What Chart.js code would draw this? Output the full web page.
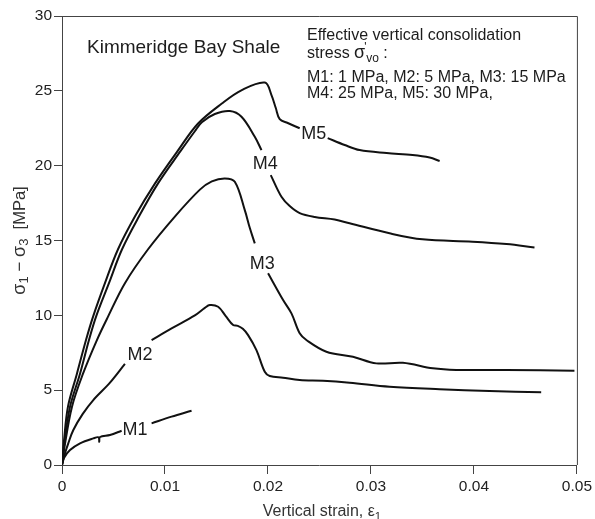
<!DOCTYPE html>
<html>
<head>
<meta charset="utf-8">
<script src="https://cdn.jsdelivr.net/npm/chart.js@4.4.1/dist/chart.umd.min.js"></script>
<style>
  html, body { margin: 0; padding: 0; background: #fff; }
  #wrap { width: 595px; height: 519px; }
</style>
</head>
<body>
<div id="wrap"><canvas id="chart"></canvas></div>
<script>
// values (strain [-], deviator stress [MPa]); null = gap left for the curve label
const m1Strain = [0, 0.00019, 0.00078, 0.00175, 0.00304, 0.00355, 0.00362, 0.00369, 0.00466, 0.00579, 0.007, 0.0087, 0.01064, 0.01258];
const m1Stress = [0, 0.47, 1.0, 1.45, 1.78, 1.85, 1.55, 1.87, 2.0, 2.29, null, 2.78, 3.23, 3.63];

const m2Strain = [0, 0.00029, 0.00061, 0.0011, 0.002, 0.00304, 0.00466, 0.00611, 0.0075, 0.0087, 0.01064, 0.0129, 0.01387, 0.01435, 0.01516, 0.0159, 0.01662, 0.01707, 0.01756, 0.01807, 0.01888, 0.01969, 0.02017, 0.02146, 0.02308, 0.02534, 0.02793, 0.03181, 0.03666, 0.04151, 0.04653];
const m2Stress = [0, 0.78, 1.45, 2.34, 3.4, 4.34, 5.5, 6.75, null, 8.35, 9.13, 10.0, 10.5, 10.69, 10.57, 9.95, 9.35, 9.3, 9.1, 8.68, 7.68, 6.23, 5.95, 5.83, 5.68, 5.63, 5.5, 5.23, 5.06, 4.94, 4.86];

const m3Strain = [0, 0.00024, 0.00097, 0.00204, 0.00339, 0.00446, 0.00611, 0.00834, 0.01096, 0.01339, 0.01455, 0.01581, 0.01678, 0.01775, 0.01824, 0.01872, 0.0192, 0.02001, 0.02147, 0.02228, 0.02308, 0.02373, 0.02567, 0.02825, 0.03052, 0.0331, 0.03601, 0.03828, 0.04313, 0.04976];
const m3Stress = [0, 1.2, 3.9, 6.1, 8.35, 9.9, 12.15, 14.4, 16.6, 18.4, 18.95, 19.15, 18.93, 17.03, 15.83, 14.81, null, 12.81, 11.02, 10.13, 8.8, 8.35, 7.57, 7.23, 6.79, 6.83, 6.46, 6.35, 6.35, 6.3];

const m4Strain = [0, 0.00024, 0.00078, 0.00175, 0.00262, 0.0033, 0.00456, 0.00582, 0.00747, 0.00931, 0.01154, 0.0129, 0.01358, 0.01484, 0.0163, 0.01743, 0.01872, 0.01937, 0.0199, 0.02027, 0.02131, 0.02211, 0.02308, 0.02454, 0.02648, 0.02793, 0.03181, 0.03501, 0.03986, 0.04316, 0.04588];
const m4Stress = [0, 1.5, 3.9, 6.1, 8.35, 9.9, 12.15, 14.4, 16.6, 18.8, 21.0, 22.3, 22.9, 23.45, 23.65, 23.27, 21.93, 21.04, null, 19.37, 17.92, 17.3, 16.83, 16.57, 16.4, 16.15, 15.48, 15.08, 14.92, 14.76, 14.54];

const m5Strain = [0, 0.00019, 0.00058, 0.00145, 0.00233, 0.00301, 0.00417, 0.00543, 0.00708, 0.00902, 0.01125, 0.01319, 0.01552, 0.01746, 0.0197, 0.02034, 0.02076, 0.02114, 0.02192, 0.02308, 0.0245, 0.0258, 0.02745, 0.0289, 0.03152, 0.03404, 0.0357, 0.03667];
const m5Stress = [0, 1.6, 3.9, 6.1, 8.35, 9.9, 12.15, 14.4, 16.6, 18.8, 21.0, 22.8, 24.15, 25.05, 25.55, 24.72, 23.85, 23.11, 22.85, 22.5, null, 21.84, 21.38, 21.04, 20.84, 20.71, 20.54, 20.31];

const curveNames = ['M1', 'M2', 'M3', 'M4', 'M5'];
const labelStrain = [0.00708, 0.00757, 0.01945, 0.01974, 0.02444];
const labelStress = [2.44, 7.45, 13.53, 20.2, 22.2];

const xTickLabels = ['0', '0.01', '0.02', '0.03', '0.04', '0.05'];
const yTickLabels = ['0', '5', '10', '15', '20', '25', '30'];

const titleText = 'Kimmeridge Bay Shale';
const noteLines = ['Effective vertical consolidation', 'stress', 'M1: 1 MPa, M2: 5 MPa, M3: 15 MPa', 'M4: 25 MPa, M5: 30 MPa,'];

const FONT = '"Liberation Sans", Arial, sans-serif';
const axisColor = '#444';
const textColor = '#1c1c1c';

function toPoints(xs, ys) {
  return xs.map((v, i) => ({ x: v, y: ys[i] }));
}

const series = [[m1Strain, m1Stress], [m2Strain, m2Stress], [m3Strain, m3Stress], [m4Strain, m4Stress], [m5Strain, m5Stress]];

const datasets = series.map((s, i) => ({
  label: curveNames[i],
  data: toPoints(s[0], s[1]),
  showLine: true,
  borderColor: '#111',
  borderWidth: 2,
  pointRadius: 0,
  tension: 0.35,
  spanGaps: false
}));

// draws a run of [text, size, dy] pieces starting at x0
function drawRuns(ctx, runs, x0, y0) {
  let x = x0;
  runs.forEach(r => {
    ctx.font = r[1] + 'px ' + FONT;
    ctx.fillText(r[0], x, y0 + r[2]);
    x += ctx.measureText(r[0]).width;
  });
  return x;
}
function runsWidth(ctx, runs) {
  let w = 0;
  runs.forEach(r => { ctx.font = r[1] + 'px ' + FONT; w += ctx.measureText(r[0]).width; });
  return w;
}

const textPlugin = {
  id: 'textPlugin',
  afterDraw(chart) {
    const { ctx, chartArea: a, scales } = chart;
    const sx = scales.x, sy = scales.y;
    ctx.save();

    // top and right frame
    ctx.strokeStyle = axisColor;
    ctx.lineWidth = 1;
    ctx.beginPath();
    ctx.moveTo(a.left, a.top + 0.5);
    ctx.lineTo(a.right + 0.5, a.top + 0.5);
    ctx.lineTo(a.right + 0.5, a.bottom);
    ctx.stroke();

    ctx.fillStyle = textColor;
    ctx.textBaseline = 'alphabetic';
    ctx.textAlign = 'left';

    // title
    ctx.font = '19px ' + FONT;
    ctx.fillText(titleText, 87, 53);

    // note
    ctx.font = '16px ' + FONT;
    ctx.fillText(noteLines[0], 307, 40);
    let xe = drawRuns(ctx, [[noteLines[1] + ' ', 16, 0], ['σ', 18, 0]], 307, 58);
    ctx.font = '12px ' + FONT;
    ctx.fillText('\'', xe - 1, 51);
    xe = drawRuns(ctx, [['vo', 12, 4], [' :', 16, 0]], xe + 1, 58);
    ctx.font = '16px ' + FONT;
    ctx.fillText(noteLines[2], 307, 82);
    ctx.fillText(noteLines[3], 307, 98);

    // curve labels
    ctx.font = '18px ' + FONT;
    ctx.textAlign = 'center';
    curveNames.forEach((n, i) => {
      ctx.fillText(n, sx.getPixelForValue(labelStrain[i]), sy.getPixelForValue(labelStress[i]) + 6.5);
    });

    // x axis title
    ctx.textAlign = 'left';
    ctx.fillStyle = '#333';
    const xRuns = [['Vertical strain, ', 16, 0], ['ε', 16, 0], ['1', 11.5, 4]];
    const xw = runsWidth(ctx, xRuns);
    drawRuns(ctx, xRuns, 322 - xw / 2, 516);

    // y axis title
    const yRuns = [['σ', 18, 0], ['1', 13, 3], [' − ', 17, 0], ['σ', 18, 0], ['3', 13, 3], ['  [MPa]', 16.5, 0]];
    ctx.translate(25, (a.top + a.bottom) / 2);
    ctx.rotate(-Math.PI / 2);
    const yw = runsWidth(ctx, yRuns);
    drawRuns(ctx, yRuns, -yw / 2, 0);

    ctx.restore();
  }
};

Chart.defaults.font.family = FONT;

new Chart(document.getElementById('chart'), {
  type: 'scatter',
  data: { datasets },
  plugins: [textPlugin],
  options: {
    responsive: true,
    maintainAspectRatio: false,
    animation: false,
    layout: { padding: { top: 16, right: 15, left: 0, bottom: 0 } },
    plugins: { legend: { display: false }, tooltip: { enabled: false } },
    scales: {
      x: {
        type: 'linear',
        min: 0,
        max: 0.05,
        afterFit: s => { s.height = 54; },
        ticks: {
          stepSize: 0.01,
          color: '#222',
          font: { size: 15.5 },
          padding: 3,
          maxRotation: 0,
          callback: (v, i) => xTickLabels[i]
        },
        grid: { display: true, drawOnChartArea: false, drawTicks: true, tickLength: 9, color: axisColor },
        border: { display: true, color: axisColor }
      },
      y: {
        type: 'linear',
        min: 0,
        max: 30,
        afterFit: s => { s.width = 62; },
        ticks: {
          stepSize: 5,
          color: '#222',
          font: { size: 15.5 },
          padding: 2,
          callback: (v, i) => yTickLabels[i]
        },
        grid: { display: true, drawOnChartArea: false, drawTicks: true, tickLength: 8, color: axisColor },
        border: { display: true, color: axisColor }
      }
    }
  }
});
</script>
</body>
</html>
